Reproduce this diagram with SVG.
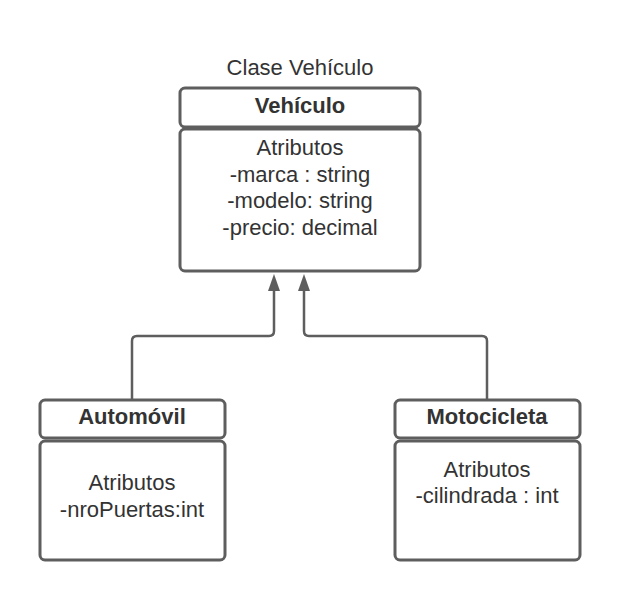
<svg xmlns="http://www.w3.org/2000/svg" width="620" height="600" viewBox="0 0 620 600">
<defs>
<style>
.box{fill:#ffffff;stroke:#5e5e5e;stroke-width:3}
.t{font-family:"Liberation Sans",Arial,sans-serif;font-size:22px;fill:#333333;text-anchor:middle}
.b{font-weight:bold}
.edge{fill:none;stroke:#5e5e5e;stroke-width:2.5}
</style>
</defs>
<rect width="620" height="600" fill="#ffffff"/>
<text class="t" x="300" y="75">Clase Vehículo</text>
<g id="connectors">
<path class="edge" d="M132,400 V341 Q132,336 137,336 H269 Q274,336 274,331 V290"/>
<path class="edge" d="M487,400 V341 Q487,336 482,336 H309 Q304,336 304,331 V290"/>
<path d="M274,274 L280,291 L268,291 Z" fill="#5e5e5e"/>
<path d="M304,274 L310,291 L298,291 Z" fill="#5e5e5e"/>
</g>
<g id="vehiculo">
<rect class="box" x="180" y="88" width="240" height="39" rx="5"/>
<rect class="box" x="180" y="129" width="240" height="142" rx="5"/>
<text class="t b" x="300" y="113">Vehículo</text>
<text class="t" x="300" y="155">Atributos</text>
<text class="t" x="300" y="181.5">-marca : string</text>
<text class="t" x="300" y="208">-modelo: string</text>
<text class="t" x="300" y="234.5">-precio: decimal</text>
</g>
<g id="automovil">
<rect class="box" x="40" y="400" width="185" height="38" rx="5"/>
<rect class="box" x="40" y="441" width="185" height="119" rx="5"/>
<text class="t b" x="132" y="424">Automóvil</text>
<text class="t" x="132" y="490">Atributos</text>
<text class="t" x="132" y="517">-nroPuertas:int</text>
</g>
<g id="motocicleta">
<rect class="box" x="395" y="400" width="185" height="38" rx="5"/>
<rect class="box" x="395" y="441" width="185" height="119" rx="5"/>
<text class="t b" x="487" y="424">Motocicleta</text>
<text class="t" x="487" y="477">Atributos</text>
<text class="t" x="487" y="503">-cilindrada : int</text>
</g>
</svg>
